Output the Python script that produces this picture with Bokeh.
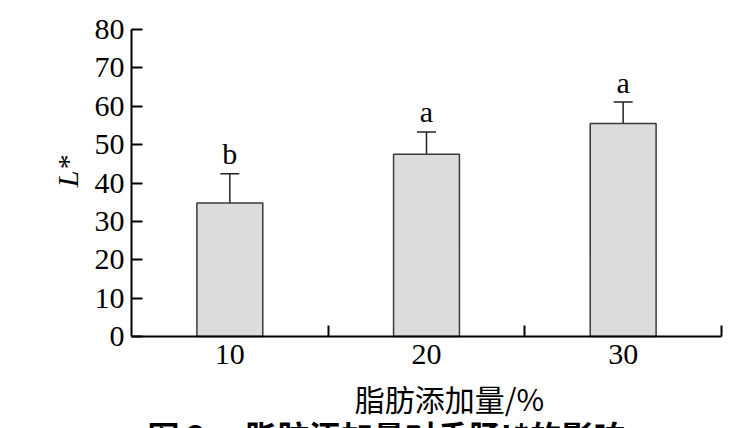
from bokeh.plotting import figure
from bokeh.models import Range1d, FixedTicker, Whisker, TeeHead, ColumnDataSource, Label
from bokeh.embed import file_html
from bokeh.resources import INLINE
from bokeh.core.properties import value

# ---- data ----
categories = ["10", "20", "30"]
means = [34.8, 47.5, 55.5]
errors = [7.6, 5.8, 5.6]
letters = ["b", "a", "a"]
y_ticks = [0, 10, 20, 30, 40, 50, 60, 70, 80]
x_label = "脂肪添加量/%"
y_label = "L*"
caption = "图\u00a02\u3000\u00a0脂肪添加量对香肠L*的影响"

n = len(categories)
xs = [i + 0.5 for i in range(n)]
bounds = [i + 1 for i in range(n)]
upper = [m + e for m, e in zip(means, errors)]
lower = [m - e for m, e in zip(means, errors)]
src = ColumnDataSource(dict(x=xs, top=means, upper=upper, lower=lower, letter=letters))

# ---- layout (pixels) ----
W, H = 748, 428
AX_LEFT, AX_RIGHT, AX_TOP, AX_BOTTOM = 131, 721, 29, 336
YMAX = 80
px_x = (AX_RIGHT - AX_LEFT) / n
px_y = (AX_BOTTOM - AX_TOP) / YMAX
x_range = Range1d(-AX_LEFT / px_x, n + (W - AX_RIGHT) / px_x)
y_range = Range1d(-(H - AX_BOTTOM) / px_y, YMAX + AX_TOP / px_y)

p = figure(width=W, height=H, output_backend="svg", toolbar_location=None,
           x_range=x_range, y_range=y_range,
           min_border_left=0, min_border_right=0,
           min_border_top=0, min_border_bottom=0)
p.xgrid.visible = False
p.ygrid.visible = False
p.outline_line_color = None
p.background_fill_color = "white"
p.border_fill_color = "white"

serif = "Liberation Serif"

xa = p.xaxis[0]
xa.fixed_location = 0
xa.bounds = (0, n)
xa.ticker = FixedTicker(ticks=xs, minor_ticks=bounds)
xa.major_label_overrides = {x: c for x, c in zip(xs, categories)}
xa.major_tick_line_color = None
xa.major_tick_in = 0
xa.major_tick_out = 0
xa.minor_tick_in = 11
xa.minor_tick_out = 0
xa.minor_tick_line_width = 2
xa.minor_tick_line_color = "black"
xa.axis_line_width = 2
xa.axis_line_color = "black"
xa.major_label_text_font = serif
xa.major_label_text_font_size = "30px"
xa.major_label_text_color = "black"
xa.major_label_standoff = 8

ya = p.yaxis[0]
ya.fixed_location = 0
ya.bounds = (0, YMAX)
ya.ticker = FixedTicker(ticks=y_ticks)
ya.major_tick_in = 11
ya.major_tick_out = 0
ya.major_tick_line_width = 2
ya.major_tick_line_color = "black"
ya.minor_tick_line_color = None
ya.axis_line_width = 2
ya.axis_line_color = "black"
ya.major_label_text_font = serif
ya.major_label_text_font_size = "30px"
ya.major_label_text_color = "black"
ya.major_label_standoff = 7

p.vbar(x="x", top="top", bottom=0, width=0.335, source=src,
       fill_color="#dcdcdc", line_color="#3a3a3a", line_width=1.5)

head = dict(size=19, line_width=1.5, line_color="#222222")
w = Whisker(source=src, base="x", upper="upper", lower="lower",
            line_color="#222222", line_width=1.5,
            upper_head=TeeHead(**head), lower_head=TeeHead(**head))
p.add_layout(w)

p.text(x="x", y="upper", text="letter", source=src,
       text_font=value(serif), text_font_size="30px", text_color="black",
       text_align="center", text_baseline="alphabetic", y_offset=-20)

# axis titles and caption (screen units from the canvas' bottom-left corner,
# which is also the frame's here)
p.add_layout(Label(x=67, y=H - 171, x_units="screen", y_units="screen",
                   text=y_label, angle=1.5708, text_font=serif,
                   text_font_style="italic", text_font_size="30px",
                   text_color="black", text_align="center",
                   text_baseline="alphabetic"))
p.add_layout(Label(x=449, y=H - 397, x_units="screen", y_units="screen",
                   text=x_label, text_font="Noto Sans CJK SC",
                   text_font_size="30px", text_color="black",
                   text_align="center", text_baseline="middle"))
p.add_layout(Label(x=147, y=H - 411, x_units="screen", y_units="screen",
                   text=caption, text_font="Noto Sans CJK SC",
                   text_font_style="bold", text_font_size="32px",
                   text_color="black", text_align="left",
                   text_baseline="top"))

open("out.html", "w").write(file_html(p, INLINE))
